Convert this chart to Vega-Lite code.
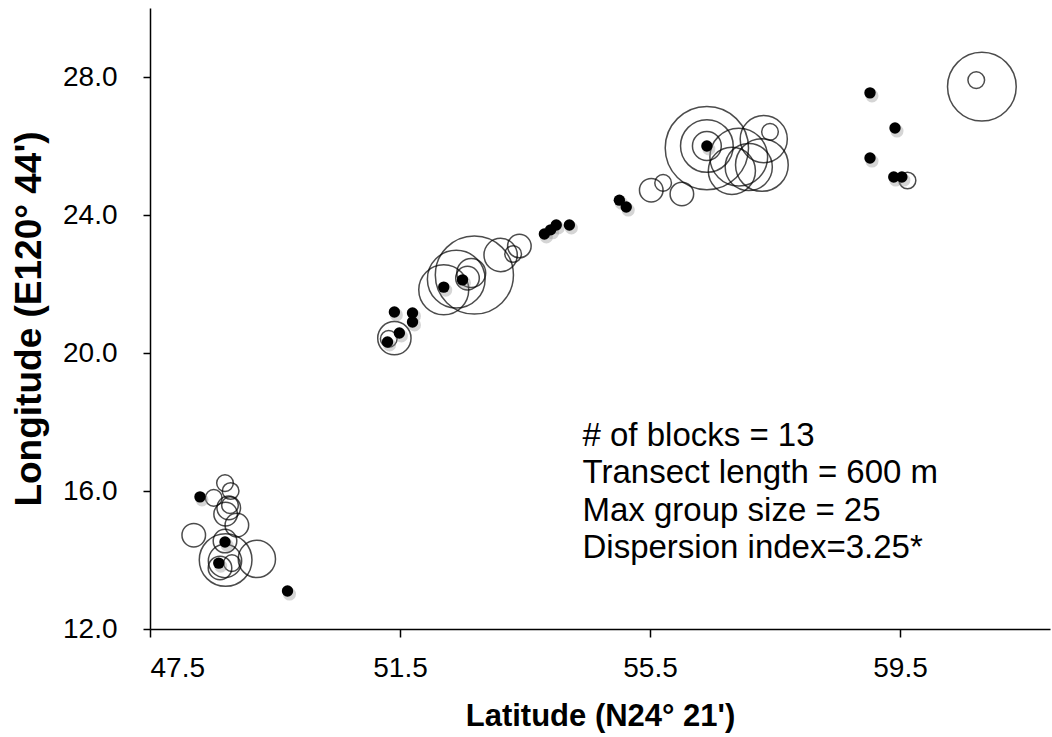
{
  "$schema": "https://vega.github.io/schema/vega-lite/v6.json",
  "width": 900,
  "height": 621,
  "autosize": "none",
  "padding": {"left": 150, "top": 8, "right": 2, "bottom": 108},
  "background": "white",
  "config": {
    "view": {"stroke": null},
    "font": "Liberation Sans",
    "axis": {
      "grid": false,
      "domainColor": "black",
      "domainWidth": 1.5,
      "tickColor": "black",
      "tickWidth": 1.5,
      "labelColor": "black",
      "titleColor": "black",
      "labelFont": "Liberation Sans",
      "titleFont": "Liberation Sans",
      "labelFontSize": 28,
      "titleFontWeight": "bold"
    }
  },
  "datasets": {
    "circles": [
      {"lat": 48.70, "lon": 16.23, "n": 1},
      {"lat": 48.79, "lon": 16.00, "n": 1},
      {"lat": 48.52, "lon": 15.80, "n": 1},
      {"lat": 48.76, "lon": 15.51, "n": 2},
      {"lat": 48.71, "lon": 15.33, "n": 2},
      {"lat": 48.78, "lon": 15.59, "n": 1},
      {"lat": 48.89, "lon": 15.01, "n": 2},
      {"lat": 48.20, "lon": 14.72, "n": 2},
      {"lat": 48.70, "lon": 14.55, "n": 2},
      {"lat": 48.71, "lon": 14.00, "n": 10},
      {"lat": 49.21, "lon": 14.03, "n": 5},
      {"lat": 48.70, "lon": 13.97, "n": 4},
      {"lat": 48.62, "lon": 13.77, "n": 2},
      {"lat": 48.81, "lon": 13.91, "n": 1},
      {"lat": 51.41, "lon": 20.43, "n": 4},
      {"lat": 51.32, "lon": 20.41, "n": 1},
      {"lat": 52.69, "lon": 22.26, "n": 22},
      {"lat": 52.20, "lon": 21.83, "n": 9},
      {"lat": 52.40, "lon": 22.14, "n": 12},
      {"lat": 52.64, "lon": 22.32, "n": 3},
      {"lat": 52.58, "lon": 22.17, "n": 2},
      {"lat": 53.11, "lon": 22.84, "n": 4},
      {"lat": 53.41, "lon": 23.10, "n": 2},
      {"lat": 53.31, "lon": 22.87, "n": 1},
      {"lat": 55.52, "lon": 24.72, "n": 2},
      {"lat": 55.71, "lon": 24.93, "n": 1},
      {"lat": 56.01, "lon": 24.61, "n": 2},
      {"lat": 56.41, "lon": 25.94, "n": 25},
      {"lat": 56.41, "lon": 26.00, "n": 10},
      {"lat": 56.41, "lon": 26.00, "n": 3},
      {"lat": 56.92, "lon": 25.68, "n": 12},
      {"lat": 56.81, "lon": 25.28, "n": 8},
      {"lat": 57.08, "lon": 25.39, "n": 8},
      {"lat": 57.29, "lon": 25.45, "n": 10},
      {"lat": 57.32, "lon": 26.20, "n": 8},
      {"lat": 57.42, "lon": 26.41, "n": 1},
      {"lat": 60.81, "lon": 27.72, "n": 17},
      {"lat": 60.72, "lon": 27.91, "n": 1},
      {"lat": 59.62, "lon": 25.00, "n": 1}
    ],
    "dots": [
      {"lat": 48.30, "lon": 15.83},
      {"lat": 48.70, "lon": 14.52},
      {"lat": 48.60, "lon": 13.91},
      {"lat": 49.70, "lon": 13.10},
      {"lat": 51.30, "lon": 20.32},
      {"lat": 51.41, "lon": 21.19},
      {"lat": 51.70, "lon": 21.16},
      {"lat": 51.70, "lon": 20.90},
      {"lat": 51.49, "lon": 20.58},
      {"lat": 52.20, "lon": 21.91},
      {"lat": 52.50, "lon": 22.12},
      {"lat": 53.81, "lon": 23.45},
      {"lat": 53.91, "lon": 23.57},
      {"lat": 54.00, "lon": 23.71},
      {"lat": 54.21, "lon": 23.71},
      {"lat": 55.01, "lon": 24.43},
      {"lat": 55.12, "lon": 24.23},
      {"lat": 56.41, "lon": 26.00},
      {"lat": 59.02, "lon": 27.54},
      {"lat": 59.42, "lon": 26.52},
      {"lat": 59.02, "lon": 25.65},
      {"lat": 59.40, "lon": 25.10},
      {"lat": 59.53, "lon": 25.10}
    ],
    "notes": [
      {"lat": 54.42, "lon": 17.60, "text": ["# of blocks = 13", "Transect length = 600 m", "Max group size = 25", "Dispersion index=3.25*"]}
    ]
  },
  "encoding": {
    "x": {
      "field": "lat", "type": "quantitative",
      "scale": {"domain": [47.5, 61.9], "nice": false, "zero": false},
      "axis": {"values": [47.5, 51.5, 55.5, 59.5], "format": ".1f", "title": "Latitude (N24° 21')", "titleFontSize": 31, "tickSize": 8, "labelPadding": 17, "titlePadding": 19}
    },
    "y": {
      "field": "lon", "type": "quantitative",
      "scale": {"domain": [12, 30], "nice": false, "zero": false},
      "axis": {"values": [12, 16, 20, 24, 28], "format": ".1f", "title": "Longitude (E120° 44')", "titleFontSize": 37, "tickSize": 7, "labelPadding": 26, "titlePadding": 14}
    }
  },
  "layer": [
    {
      "data": {"name": "circles"},
      "mark": {"type": "point", "shape": "circle", "filled": false, "stroke": "black", "strokeWidth": 1.5},
      "encoding": {
        "size": {"field": "n", "type": "quantitative", "scale": {"type": "linear", "domain": [0, 25], "range": [0, 6940]}, "legend": null}
      }
    },
    {
      "data": {"name": "dots"},
      "mark": {"type": "circle", "color": "#888888", "opacity": 0.35, "size": 170, "xOffset": 2, "yOffset": 3}
    },
    {
      "data": {"name": "dots"},
      "mark": {"type": "circle", "color": "black", "opacity": 1, "size": 130}
    },
    {
      "data": {"name": "notes"},
      "mark": {"type": "text", "align": "left", "baseline": "middle", "fontSize": 33, "lineHeight": 37.5, "font": "Liberation Sans", "color": "black"},
      "encoding": {"text": {"field": "text"}}
    }
  ]
}
